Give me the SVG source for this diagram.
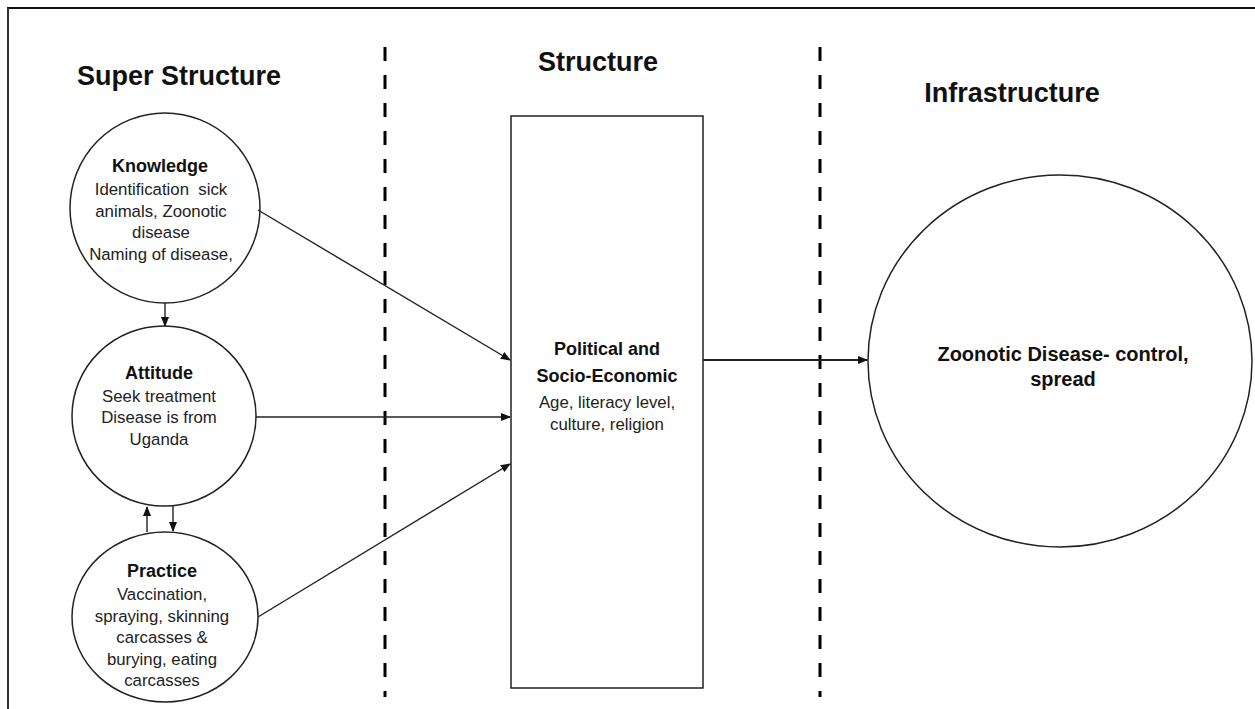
<svg xmlns="http://www.w3.org/2000/svg" width="1255" height="709" viewBox="0 0 1255 709">
<style>
  .title { font-family: "Liberation Sans", Arial, sans-serif; font-weight: bold; font-size: 27px; fill: #111; text-anchor: middle; }
  .head { font-family: "Liberation Sans", Arial, sans-serif; font-weight: bold; font-size: 18px; fill: #111; text-anchor: middle; }
  .body { font-family: "Liberation Sans", Arial, sans-serif; font-size: 16.8px; fill: #222; text-anchor: middle; }
  .big { font-family: "Liberation Sans", Arial, sans-serif; font-weight: bold; font-size: 20px; fill: #111; text-anchor: middle; }
  .shape { fill: #fff; stroke: #222; stroke-width: 1.5; }
  .conn { fill: none; stroke: #222; stroke-width: 1.4; marker-end: url(#arr); }
  .divider { stroke: #000; stroke-width: 3; stroke-dasharray: 14 14; }
</style>
<defs>
  <marker id="arr" markerWidth="10" markerHeight="8" refX="9" refY="4" orient="auto" markerUnits="userSpaceOnUse">
    <path d="M0,0 L10,4 L0,8 z" fill="#111"/>
  </marker>
</defs>
<rect width="1255" height="709" fill="#fff"/>
<g id="frame">
  <line x1="7" y1="8" x2="1255" y2="8" stroke="#111" stroke-width="2"/>
  <line x1="8" y1="8" x2="8" y2="709" stroke="#333" stroke-width="2"/>
</g>
<g id="dividers">
  <line class="divider" x1="385" y1="47" x2="385" y2="697"/>
  <line class="divider" x1="820" y1="47" x2="820" y2="697"/>
</g>
<g id="titles">
  <text class="title" x="179" y="85">Super Structure</text>
  <text class="title" x="598" y="71">Structure</text>
  <text class="title" x="1012" y="102">Infrastructure</text>
</g>
<g id="knowledge">
  <ellipse class="shape" cx="165" cy="208" rx="95" ry="95"/>
  <text class="head" x="160" y="172">Knowledge</text>
  <text class="body" x="161" y="195">Identification&#160; sick</text>
  <text class="body" x="161" y="217">animals, Zoonotic</text>
  <text class="body" x="161" y="238">disease</text>
  <text class="body" x="161" y="260">Naming of disease,</text>
</g>
<g id="attitude">
  <ellipse class="shape" cx="164" cy="416" rx="92" ry="90"/>
  <text class="head" x="159" y="379">Attitude</text>
  <text class="body" x="159" y="402">Seek treatment</text>
  <text class="body" x="159" y="423">Disease is from</text>
  <text class="body" x="159" y="445">Uganda</text>
</g>
<g id="practice">
  <ellipse class="shape" cx="165" cy="617" rx="93" ry="85"/>
  <text class="head" x="162" y="577">Practice</text>
  <text class="body" x="162" y="600">Vaccination,</text>
  <text class="body" x="162" y="622">spraying, skinning</text>
  <text class="body" x="162" y="643">carcasses &amp;</text>
  <text class="body" x="162" y="665">burying, eating</text>
  <text class="body" x="162" y="686">carcasses</text>
</g>
<g id="structure">
  <rect class="shape" x="511" y="116" width="192" height="572"/>
  <text class="head" x="607" y="355">Political and</text>
  <text class="head" x="607" y="382">Socio-Economic</text>
  <text class="body" x="607" y="408">Age, literacy level,</text>
  <text class="body" x="607" y="430">culture, religion</text>
</g>
<g id="zoonotic">
  <ellipse class="shape" cx="1060" cy="361" rx="192" ry="186"/>
  <text class="big" x="1063" y="361">Zoonotic Disease- control,</text>
  <text class="big" x="1063" y="386">spread</text>
</g>
<g id="connectors">
  <line class="conn" x1="165" y1="303" x2="165" y2="326"/>
  <line class="conn" x1="147" y1="532" x2="147" y2="507"/>
  <line class="conn" x1="173" y1="506" x2="173" y2="531"/>
  <line class="conn" x1="258" y1="210" x2="510" y2="360"/>
  <line class="conn" x1="256" y1="417" x2="510" y2="417"/>
  <line class="conn" x1="258" y1="617" x2="510" y2="464"/>
  <line class="conn" x1="703" y1="360" x2="867" y2="360" style="stroke-width:2.2"/>
</g>
</svg>
